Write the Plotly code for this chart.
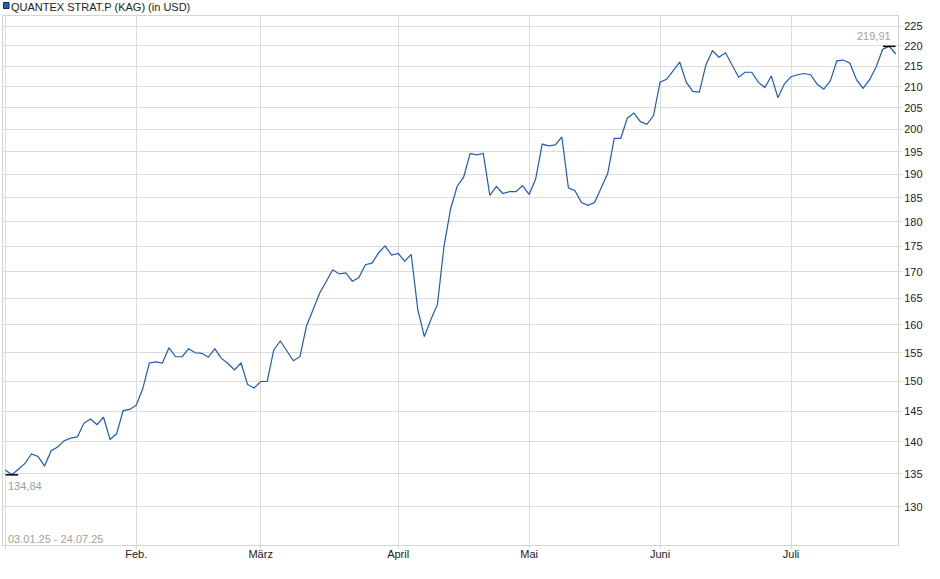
import math
import plotly.graph_objects as go

# closing prices, one per trading day (03.01.25 - 24.07.25)
prices = [
    135.6, 134.84, 135.7, 136.6, 138.1, 137.7, 136.2, 138.6, 139.2, 140.2,
    140.6, 140.8, 143.0, 143.7, 142.8, 144.0, 140.4, 141.3, 145.1, 145.3,
    146.0, 148.8, 153.2, 153.4, 153.2, 155.9, 154.3, 154.3, 155.7, 155.0,
    154.9, 154.2, 155.7, 154.0, 153.1, 152.0, 153.2, 149.5, 148.9, 150.0,
    150.0, 155.5, 157.1, 155.3, 153.6, 154.3, 159.8, 162.8, 165.9, 168.1,
    170.4, 169.6, 169.8, 168.2, 168.9, 171.4, 171.7, 173.7, 175.1, 173.3,
    173.6, 172.1, 173.4, 162.8, 157.9, 161.0, 163.8, 175.0, 182.6, 187.4,
    189.4, 194.6, 194.3, 194.6, 185.5, 187.4, 185.9, 186.3, 186.3, 187.6,
    185.7, 189.0, 196.7, 196.3, 196.5, 198.3, 187.1, 186.5, 184.0, 183.4,
    184.0, 187.1, 190.2, 198.0, 198.0, 202.6, 203.8, 201.8, 201.2, 203.2,
    211.1, 211.8, 213.9, 216.0, 211.1, 208.9, 208.7, 215.3, 218.8, 217.2,
    218.3, 215.3, 212.3, 213.5, 213.5, 211.1, 209.8, 212.6, 207.4, 210.7,
    212.4, 212.9, 213.2, 212.9, 210.6, 209.4, 211.4, 216.3, 216.5, 215.7,
    211.7, 209.6, 211.7, 214.8, 219.2, 219.91, 218.0,
]
days = list(range(len(prices)))

# first trading day of each month
month_idx = [0, 20, 39, 60, 80, 100, 120]
month_labels = ["", "Feb.", "März", "April", "Mai", "Juni", "Juli"]

y_ticks = list(range(130, 226, 5))

title = "QUANTEX STRAT.P (KAG) (in USD)"
period = "03.01.25 - 24.07.25"

LINE = "#1c5bbf"
GRID = "#dcdcdc"
FONT = "Liberation Sans, Arial, sans-serif"

i_min = prices.index(min(prices))
i_max = prices.index(max(prices))


def fmt(v):
    return f"{v:.2f}".replace(".", ",")


fig = go.Figure()

fig.add_trace(go.Scatter(
    x=days, y=prices, mode="lines",
    line=dict(color=LINE, width=1.2),
    hoverinfo="skip", showlegend=False,
))

# little black bars marking low and high
fig.add_trace(go.Scatter(
    x=[i_min, i_max], y=[prices[i_min], prices[i_max]],
    mode="markers",
    marker=dict(symbol="line-ew", size=9, line=dict(color="black", width=1.5)),
    hoverinfo="skip", showlegend=False,
))

fig.update_layout(
    width=940, height=579,
    margin=dict(l=3, r=42, t=16, b=34),
    paper_bgcolor="white", plot_bgcolor="white",
    font=dict(family=FONT, size=11, color="#222"),
    xaxis=dict(
        range=[-0.35, 136.34],
        tickvals=month_idx, ticktext=month_labels,
        showgrid=True, gridcolor=GRID, gridwidth=1,
        showline=True, linecolor="#d4d4d4", mirror=True,
        ticks="outside", ticklen=3, tickcolor=GRID,
        ticklabelstandoff=-4,
        zeroline=False, fixedrange=True,
    ),
    yaxis=dict(
        type="log", side="right",
        range=[2.09503, 2.35729],
        tickvals=y_ticks, ticktext=[str(v) for v in y_ticks],
        showgrid=True, gridcolor=GRID, gridwidth=1,
        showline=True, linecolor="#d4d4d4", mirror=True,
        ticks="outside", ticklen=3, tickcolor=GRID,
        zeroline=False, fixedrange=True,
    ),
    # blue legend square in front of the title
    shapes=[dict(
        type="rect", xref="paper", yref="paper",
        x0=0.0006, x1=0.0067, y0=1.0142, y1=1.0255,
        fillcolor="#1a5ec8", line=dict(color="#1d2b4a", width=1),
    )],
    annotations=[
        dict(text=title, xref="paper", yref="paper", x=0.0072, y=1.0176,
             xanchor="left", yanchor="middle", showarrow=False,
             font=dict(size=11, color="#222")),
        dict(text=period, xref="paper", yref="paper", x=0, y=0,
             xanchor="left", yanchor="middle", xshift=3, yshift=6,
             showarrow=False, font=dict(size=11, color="#a8a198")),
        dict(text=fmt(prices[i_min]), x=i_min, y=math.log10(prices[i_min]),
             xanchor="left", yanchor="top", xshift=-6, yshift=-3,
             showarrow=False, font=dict(size=11, color="#9a9ea8")),
        dict(text=fmt(prices[i_max]), x=i_max, y=math.log10(prices[i_max]),
             xanchor="right", yanchor="bottom", xshift=4, yshift=2,
             showarrow=False, font=dict(size=11, color="#a8a198")),
    ],
)

# the page body has a default 8px margin; drop it so the figure sits at 0,0
fig.write_html("out.html", config={"displayModeBar": False},
               post_script="document.body.style.margin='0';")
